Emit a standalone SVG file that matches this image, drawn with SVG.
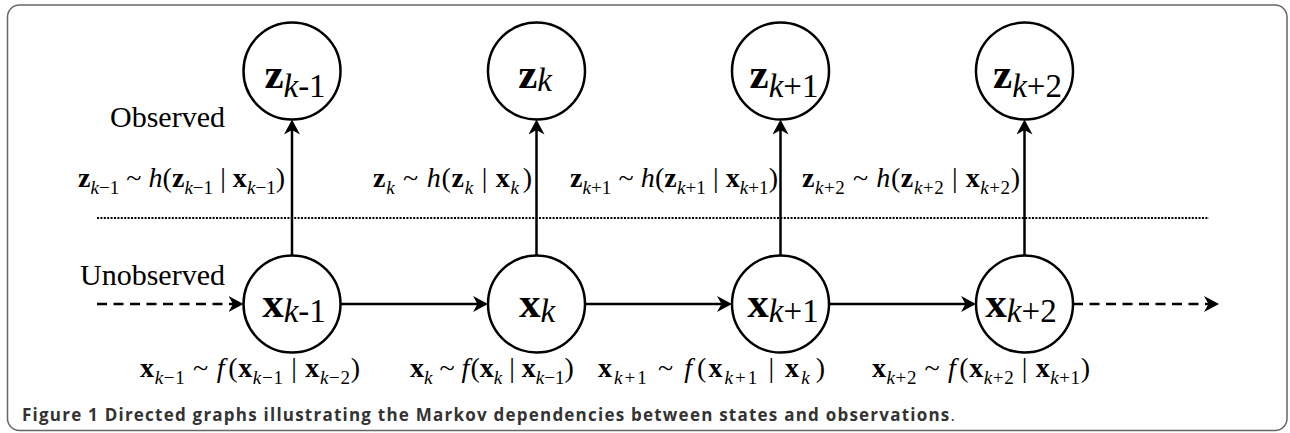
<svg xmlns="http://www.w3.org/2000/svg" width="1290" height="433" viewBox="0 0 1290 433">
<style>
.node circle{fill:#fff;stroke:#000;stroke-width:2.5}
.lbl{font-family:"Liberation Serif",serif;font-size:43px;font-weight:bold;fill:#000;text-anchor:middle}
.ls{font-size:33px;font-weight:normal}
.f{font-family:"Liberation Serif",serif;font-size:28px;fill:#000}
.b{font-weight:bold}
.i{font-style:italic}
.s{font-size:19px}
.side{font-family:"Liberation Serif",serif;font-size:30px;fill:#000}
.ar{stroke:#000;stroke-width:2.5;fill:none;marker-end:url(#ah)}
.dash{stroke-dasharray:10 6.5}
.cap{font-family:"Open Sans","Noto Sans",sans-serif;font-size:17px;fill:#333}
</style>
<defs>
<marker id="ah" markerUnits="userSpaceOnUse" markerWidth="16" markerHeight="16" refX="10" refY="8" orient="auto">
<path d="M0,0 L15,8 L0,16 L4.5,8 Z" fill="#000"/>
</marker>
</defs>
<rect x="7.5" y="5" width="1279.5" height="425.5" rx="12" ry="12" fill="#fff" stroke="#666" stroke-width="1.5"/>
<line x1="97" y1="218" x2="1209" y2="218" stroke="#000" stroke-width="2" stroke-dasharray="2 1.4"/>
<g id="connectors">
<line class="ar" x1="292" y1="255.5" x2="292" y2="124.5"/>
<line class="ar" x1="536.5" y1="255.5" x2="536.5" y2="124.5"/>
<line class="ar" x1="780.5" y1="255.5" x2="780.5" y2="124.5"/>
<line class="ar" x1="1024.5" y1="255.5" x2="1024.5" y2="124.5"/>
<line class="ar" x1="340.5" y1="304" x2="483" y2="304"/>
<line class="ar" x1="585" y1="304" x2="727" y2="304"/>
<line class="ar" x1="829" y1="304" x2="971" y2="304"/>
<line class="ar dash" x1="97" y1="304" x2="238.5" y2="304"/>
<line class="ar dash" x1="1073" y1="304" x2="1214" y2="304"/>
</g>
<g id="z_km1" class="node"><circle cx="292" cy="71" r="48.5"/><text class="lbl" x="295" y="88">z<tspan class="ls" dy="9"><tspan class="i">k</tspan>-1</tspan></text></g>
<g id="z_k" class="node"><circle cx="536.5" cy="71" r="48.5"/><text class="lbl" x="535" y="88">z<tspan class="ls i" dy="3">k</tspan></text></g>
<g id="z_kp1" class="node"><circle cx="780.5" cy="71" r="48.5"/><text class="lbl" x="784" y="88">z<tspan class="ls" dy="9"><tspan class="i">k</tspan>+1</tspan></text></g>
<g id="z_kp2" class="node"><circle cx="1024.5" cy="71" r="48.5"/><text class="lbl" x="1027.5" y="88">z<tspan class="ls" dy="9"><tspan class="i">k</tspan>+2</tspan></text></g>
<g id="x_km1" class="node"><circle cx="292" cy="304" r="48.5"/><text class="lbl" x="294" y="317">x<tspan class="ls" dy="5"><tspan class="i">k</tspan>-1</tspan></text></g>
<g id="x_k" class="node"><circle cx="536.5" cy="304" r="48.5"/><text class="lbl" x="537" y="317">x<tspan class="ls i" dy="5">k</tspan></text></g>
<g id="x_kp1" class="node"><circle cx="780.5" cy="304" r="48.5"/><text class="lbl" x="783" y="317">x<tspan class="ls" dy="5"><tspan class="i">k</tspan>+1</tspan></text></g>
<g id="x_kp2" class="node"><circle cx="1024.5" cy="304" r="48.5"/><text class="lbl" x="1021" y="317">x<tspan class="ls" dy="5"><tspan class="i">k</tspan>+2</tspan></text></g>
<text class="side" x="110" y="127">Observed</text>
<text class="side" x="80" y="285">Unobserved</text>
<g id="z-formulas">
<text class="f" x="78" y="187" textLength="207"><tspan class="b">z</tspan><tspan class="s" dy="7"><tspan class="i">k</tspan>−1</tspan><tspan dy="-7"> ~ </tspan><tspan class="i">h</tspan>(<tspan class="b">z</tspan><tspan class="s" dy="7"><tspan class="i">k</tspan>−1</tspan><tspan dy="-7"> | </tspan><tspan class="b">x</tspan><tspan class="s" dy="7"><tspan class="i">k</tspan>−1</tspan><tspan dy="-7">)</tspan></text>
<text class="f" x="373" y="187" textLength="159"><tspan class="b">z</tspan><tspan class="s i" dy="7">k</tspan><tspan dy="-7"> ~ </tspan><tspan class="i">h</tspan>(<tspan class="b">z</tspan><tspan class="s i" dy="7">k</tspan><tspan dy="-7"> | </tspan><tspan class="b">x</tspan><tspan class="s i" dy="7">k</tspan><tspan dy="-7" dx="3">)</tspan></text>
<text class="f" x="570" y="187" textLength="208"><tspan class="b">z</tspan><tspan class="s" dy="7"><tspan class="i">k</tspan>+1</tspan><tspan dy="-7"> ~ </tspan><tspan class="i">h</tspan>(<tspan class="b">z</tspan><tspan class="s" dy="7"><tspan class="i">k</tspan>+1</tspan><tspan dy="-7"> | </tspan><tspan class="b">x</tspan><tspan class="s" dy="7"><tspan class="i">k</tspan>+1</tspan><tspan dy="-7">)</tspan></text>
<text class="f" x="802" y="187" textLength="218"><tspan class="b">z</tspan><tspan class="s" dy="7"><tspan class="i">k</tspan>+2</tspan><tspan dy="-7"> ~ </tspan><tspan class="i">h</tspan>(<tspan class="b">z</tspan><tspan class="s" dy="7"><tspan class="i">k</tspan>+2</tspan><tspan dy="-7"> | </tspan><tspan class="b">x</tspan><tspan class="s" dy="7"><tspan class="i">k</tspan>+2</tspan><tspan dy="-7">)</tspan></text>
</g>
<g id="x-formulas">
<text class="f" x="140" y="377" textLength="220"><tspan class="b">x</tspan><tspan class="s" dy="7"><tspan class="i">k</tspan>−1</tspan><tspan dy="-7"> ~ </tspan><tspan class="i">f</tspan><tspan dx="3">(</tspan><tspan class="b">x</tspan><tspan class="s" dy="7"><tspan class="i">k</tspan>−1</tspan><tspan dy="-7"> | </tspan><tspan class="b">x</tspan><tspan class="s" dy="7"><tspan class="i">k</tspan>−2</tspan><tspan dy="-7">)</tspan></text>
<text class="f" x="410" y="377"><tspan class="b">x</tspan><tspan class="s i" dy="7">k</tspan><tspan dy="-7"> ~ </tspan><tspan class="i">f</tspan><tspan dx="1">(</tspan><tspan class="b">x</tspan><tspan class="s i" dy="7">k</tspan><tspan dy="-7"> | </tspan><tspan class="b">x</tspan><tspan class="s" dy="7"><tspan class="i">k</tspan>−1</tspan><tspan dy="-7">)</tspan></text>
<text class="f" x="598" y="377" textLength="227"><tspan class="b">x</tspan><tspan class="s" dy="7"><tspan class="i">k</tspan>+1</tspan><tspan dy="-7"> ~ </tspan><tspan class="i">f</tspan><tspan dx="3">(</tspan><tspan class="b">x</tspan><tspan class="s" dy="7"><tspan class="i">k</tspan>+1</tspan><tspan dy="-7"> | </tspan><tspan class="b">x</tspan><tspan class="s i" dy="7">k</tspan><tspan dy="-7" dx="4">)</tspan></text>
<text class="f" x="872" y="377" textLength="218"><tspan class="b">x</tspan><tspan class="s" dy="7"><tspan class="i">k</tspan>+2</tspan><tspan dy="-7"> ~ </tspan><tspan class="i">f</tspan><tspan dx="3">(</tspan><tspan class="b">x</tspan><tspan class="s" dy="7"><tspan class="i">k</tspan>+2</tspan><tspan dy="-7"> | </tspan><tspan class="b">x</tspan><tspan class="s" dy="7"><tspan class="i">k</tspan>+1</tspan><tspan dy="-7">)</tspan></text>
</g>
<text class="cap" x="22" y="421" textLength="933"><tspan font-weight="bold">Figure 1 Directed graphs illustrating the Markov dependencies between states and observations</tspan>.</text>
</svg>
